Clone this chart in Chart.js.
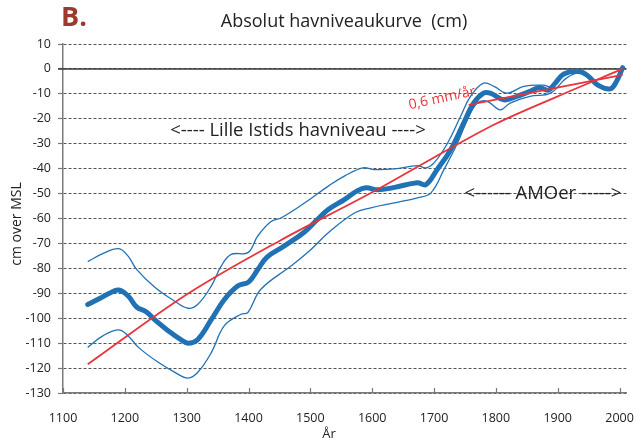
<!DOCTYPE html>
<html><head><meta charset="utf-8">
<script src="https://cdn.jsdelivr.net/npm/chart.js@4"></script>
<style>html,body{margin:0;padding:0;background:#fff}</style>
</head><body>
<canvas id="c" width="644" height="441" style="width:644px;height:441px;display:block"></canvas>
<script>
// ---- data ----
const mainYears = [1140,1160,1175,1190,1205,1219,1235,1250,1270,1290,1302,1318,1340,1361,1383,1400,1415,1430,1458,1490,1511,1529,1555,1575,1590,1609,1636,1673,1687,1705,1727,1748,1764,1780,1791,1813,1834,1855,1870,1885,1895,1910,1935,1950,1965,1985,1995,2005];
const mainLevel = [-94.5,-92,-90,-88.7,-91,-95.5,-97.5,-101,-105,-108.5,-110,-108.5,-100.5,-92.5,-87,-85.5,-80.5,-75.5,-71,-65.5,-60.5,-56.4,-52.4,-49,-47.7,-48.5,-47.5,-45.7,-46.4,-40.4,-32.4,-21.7,-13.7,-9.7,-9.7,-12.4,-11,-9,-7.5,-8.5,-6,-2,-1,-3,-6.5,-8,-5,0.5];

const upperYears = [1140,1165,1190,1205,1219,1249,1276,1302,1318,1340,1356,1372,1399,1415,1436,1453,1491,1529,1555,1585,1604,1636,1673,1687,1700,1722,1743,1759,1780,1797,1818,1845,1877,1890,1909,1930,1950,1965,1985,1995,2005];
const upperLevel = [-77.3,-74,-72.1,-75,-80.4,-87.7,-92.4,-96,-94.4,-87,-79,-74.4,-73.7,-67,-61.3,-59.7,-53.7,-47,-43,-39.7,-40.4,-40.1,-38.8,-39.7,-37.7,-29.7,-19,-11,-5.7,-7,-9.7,-7,-6.5,-7,-1.7,-0.5,-2.5,-6,-7.5,-4.5,0.8];

const lowerYears = [1140,1165,1190,1205,1222,1254,1281,1302,1318,1340,1361,1388,1399,1420,1469,1501,1529,1572,1598,1636,1673,1695,1716,1738,1754,1770,1786,1807,1823,1855,1888,1914,1935,1950,1965,1985,1995,2005];
const lowerLevel = [-111.7,-107,-104.7,-107,-111.7,-117.7,-121.7,-124,-121.7,-113.7,-103,-98.4,-97.7,-88.4,-79,-72.4,-65.7,-57.7,-55.7,-53.7,-51.7,-49.7,-40.4,-29.7,-20.4,-13.7,-13,-16.4,-13.7,-11,-9.7,-3.7,-1.5,-3.5,-7,-8.5,-5.5,0.2];

const trendYears = [1140,1300,1450,1600,1700,1800,1900,2005];
const trendLevel = [-118.5,-90.5,-69,-49.5,-35.5,-22,-11,0];

const recentYears = [1756,2005];
const recentLevel = [-14.4,-2.4];

const xTickValues = [1100,1200,1300,1400,1500,1600,1700,1800,1900,2000];
const titleText = 'Absolut havniveaukurve  (cm)';
const panelLabel = 'B.';
const yTitle = 'cm over MSL';
const xTitle = 'År';
const labelLIA = '<---- Lille Istids havniveau ---->';
const labelAMO = '<------ AMOer ----->';
const labelRate = '0,6 mm/år';

// ---- chart ----
const FONT = '"Open Sans", "Noto Sans", sans-serif';
const pts = (xs, ys) => xs.map((x, i) => ({x, y: ys[i]}));
const BLUE = '#2171b5';
const RED = '#e8343a';

const deco = {
  id: 'deco',
  beforeDatasetsDraw(chart) {
    const {ctx, chartArea: a, scales: {x, y}} = chart;
    ctx.save();
    const y0 = y.getPixelForValue(0);
    ctx.strokeStyle = '#3a3a3a';
    ctx.lineWidth = 1.6;
    ctx.beginPath();
    ctx.moveTo(a.left - 5, y0);
    ctx.lineTo(a.right, y0);
    ctx.stroke();
    ctx.strokeStyle = '#777';
    ctx.lineWidth = 1.2;
    ctx.beginPath();
    xTickValues.forEach(v => {
      const px = Math.round(x.getPixelForValue(v)) + 0.5;
      ctx.moveTo(px, a.bottom);
      ctx.lineTo(px, a.bottom - 5);
    });
    ctx.stroke();
    ctx.restore();
  },
  afterDraw(chart) {
    const {ctx, scales: {x, y}} = chart;
    ctx.save();
    ctx.textBaseline = 'middle';
    ctx.fillStyle = '#9c3a2c';
    ctx.font = 'bold 27px ' + FONT;
    ctx.textAlign = 'left';
    ctx.fillText(panelLabel, 61, 18);
    ctx.fillStyle = '#222';
    ctx.font = '18px ' + FONT;
    ctx.textAlign = 'center';
    ctx.fillText(titleText, 344, 22);
    ctx.font = '18.5px ' + FONT;
    ctx.fillText(labelLIA, x.getPixelForValue(1480), y.getPixelForValue(-24.7));
    ctx.fillText(labelAMO, x.getPixelForValue(1876), y.getPixelForValue(-50.1));
    ctx.save();
    ctx.translate(x.getPixelForValue(1713), y.getPixelForValue(-11.8));
    ctx.rotate(-12 * Math.PI / 180);
    ctx.fillStyle = RED;
    ctx.font = '14px ' + FONT;
    ctx.fillText(labelRate, 0, 0);
    ctx.restore();
    ctx.fillStyle = '#222';
    ctx.font = '13px ' + FONT;
    ctx.fillText(xTitle, 329, 434);
    ctx.save();
    ctx.translate(17, 224);
    ctx.rotate(-Math.PI / 2);
    ctx.font = '14px ' + FONT;
    ctx.fillText(yTitle, 0, 0);
    ctx.restore();
    ctx.restore();
  }
};

new Chart(document.getElementById('c'), {
  type: 'line',
  data: {
    datasets: [
      {data: pts(recentYears, recentLevel), borderColor: RED, borderWidth: 1.8, pointRadius: 0, tension: 0, order: 0},
      {data: pts(trendYears, trendLevel), borderColor: RED, borderWidth: 1.8, pointRadius: 0, tension: 0.4, cubicInterpolationMode: 'monotone', order: 1},
      {data: pts(mainYears, mainLevel), borderColor: BLUE, borderWidth: 5, pointRadius: 0, tension: 0.4, order: 2, borderCapStyle: 'round'},
      {data: pts(upperYears, upperLevel), borderColor: BLUE, borderWidth: 1.3, pointRadius: 0, tension: 0.4, order: 3},
      {data: pts(lowerYears, lowerLevel), borderColor: BLUE, borderWidth: 1.3, pointRadius: 0, tension: 0.4, order: 4}
    ]
  },
  options: {
    responsive: false,
    animation: false,
    devicePixelRatio: 1,
    layout: {padding: {top: 44, right: 14, left: 0, bottom: 0}},
    plugins: {legend: {display: false}, tooltip: {enabled: false}, title: {display: false}},
    scales: {
      x: {
        type: 'linear', min: 1100, max: 2011,
        afterBuildTicks: s => { s.ticks = xTickValues.map(v => ({value: v})); },
        afterFit: s => { s.height = 48; },
        grid: {display: false},
        border: {display: true, color: '#7a7a7a', width: 1.5},
        ticks: {padding: 10, color: '#222', font: {family: FONT, size: 12.5}, maxRotation: 0, autoSkip: false, callback: v => String(v)}
      },
      y: {
        type: 'linear', min: -130, max: 10,
        ticks: {stepSize: 10, padding: 7, color: '#222', font: {family: FONT, size: 12.5}, callback: v => String(v)},
        afterFit: s => { s.width = 63; },
        grid: {color: '#555', lineWidth: 1, drawTicks: true, tickLength: 5, tickColor: '#777', tickWidth: 1.2, tickBorderDash: []},
        border: {display: true, color: '#7a7a7a', width: 1.5, dash: [3, 2]}
      }
    }
  },
  plugins: [deco]
});
</script>
</body></html>
